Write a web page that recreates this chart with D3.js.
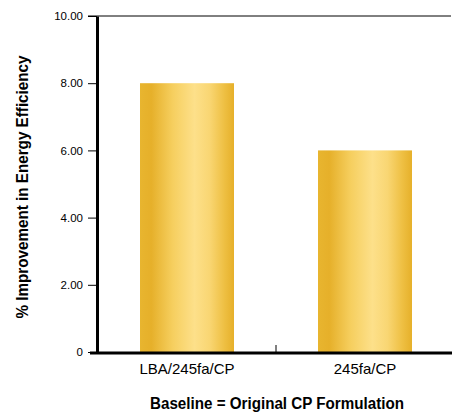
<!DOCTYPE html>
<html>
<head>
<meta charset="utf-8">
<script src="https://cdn.jsdelivr.net/npm/d3@7"></script>
<style>
  body { margin: 0; background: #fff; }
  svg text { font-family: "Liberation Sans", Arial, Helvetica, sans-serif; }
</style>
</head>
<body>
<div id="chart"></div>
<script>
var categories = ["LBA/245fa/CP", "245fa/CP"];
var values = [8.0, 6.0];
var yTicks = [0, 2, 4, 6, 8, 10];
var yTickLabels = ["0", "2.00", "4.00", "6.00", "8.00", "10.00"];
var yLabel = "% Improvement in Energy Efficiency";
var xTitle = "Baseline = Original CP Formulation";

var width = 452, height = 414;
var svg = d3.select("#chart").append("svg")
  .attr("width", width)
  .attr("height", height);

// gold cylinder-ish gradient for the bars
var grad = svg.append("defs").append("linearGradient")
  .attr("id", "gold")
  .attr("x1", "0%").attr("x2", "100%").attr("y1", "0%").attr("y2", "0%");
[["0%", "#e8b52f"], ["12%", "#e6b02a"], ["35%", "#f6cf5f"], ["58%", "#fde08a"],
 ["74%", "#f9d673"], ["90%", "#eebf42"], ["100%", "#e6b02a"]].forEach(function(s){
  grad.append("stop").attr("offset", s[0]).attr("stop-color", s[1]);
});

var x = d3.scaleBand()
  .domain(categories)
  .range([98, 454])
  .padding(0);
var barFrac = 0.528;

var y = d3.scaleLinear()
  .domain([0, 10])
  .range([352, 16]);

// top line at 10
svg.append("line")
  .attr("x1", 88).attr("x2", 451)
  .attr("y1", y(10)).attr("y2", y(10))
  .attr("stroke", "#000").attr("stroke-width", 1);

// bars
svg.selectAll("rect.bar")
  .data(values)
  .enter()
  .append("rect")
    .attr("class", "bar")
    .attr("x", function(d, i){ return x(categories[i]) + x.bandwidth()*(1-barFrac)/2; })
    .attr("width", x.bandwidth()*barFrac)
    .attr("y", function(d){ return y(d); })
    .attr("height", function(d){ return y(0) - y(d); })
    .style("fill", "url(#gold)");

// y axis
var yAxis = svg.append("g")
  .attr("transform", "translate(97,0)")
  .call(d3.axisLeft(y).tickValues(yTicks)
    .tickFormat(function(d, i){ return yTickLabels[i]; })
    .tickSize(9).tickSizeOuter(0).tickPadding(5));
yAxis.select(".domain").attr("stroke-width", 3);
yAxis.selectAll(".tick line").attr("stroke-width", 1);
yAxis.selectAll(".tick text").style("font-size", "11.5px").attr("fill", "#000");

// x baseline and category labels
var xAxis = svg.append("g")
  .attr("transform", "translate(0," + y(0) + ")")
  .call(d3.axisBottom(x).tickSize(0).tickPadding(11));
xAxis.select(".domain").remove();
xAxis.selectAll(".tick text").style("font-size", "15px").attr("fill", "#000");

svg.append("line")
  .attr("x1", 90).attr("x2", 452)
  .attr("y1", y(0) + 1).attr("y2", y(0) + 1)
  .attr("stroke", "#000").attr("stroke-width", 3);

// divider tick between categories
svg.append("line")
  .attr("x1", x(categories[1])).attr("x2", x(categories[1]))
  .attr("y1", y(0) - 7).attr("y2", y(0))
  .attr("stroke", "#000").attr("stroke-width", 1);

// y label
svg.append("text")
  .attr("transform", "translate(28,187) rotate(-90)")
  .attr("text-anchor", "middle")
  .attr("textLength", 263)
  .attr("lengthAdjust", "spacingAndGlyphs")
  .style("font-size", "16px")
  .style("font-weight", "bold")
  .text(yLabel);

// x title
svg.append("text")
  .attr("x", 277)
  .attr("y", 409)
  .attr("text-anchor", "middle")
  .attr("textLength", 254)
  .attr("lengthAdjust", "spacingAndGlyphs")
  .style("font-size", "16px")
  .style("font-weight", "bold")
  .text(xTitle);
</script>
</body>
</html>
